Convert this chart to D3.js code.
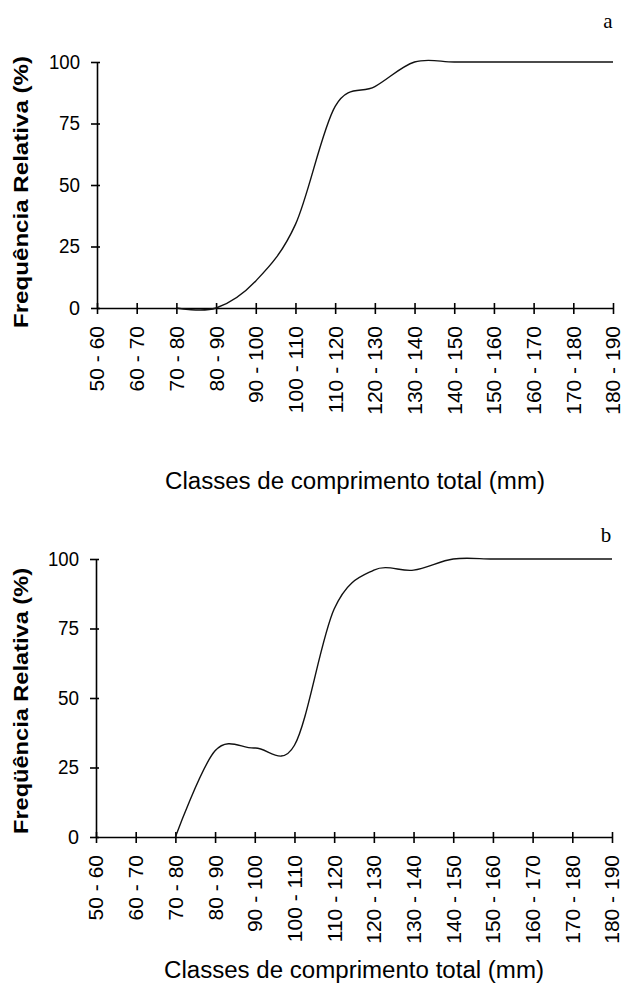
<!DOCTYPE html>
<html>
<head>
<meta charset="utf-8">
<script src="https://cdn.jsdelivr.net/npm/d3@7"></script>
<style>
  body { margin: 0; background: #fff; }
  svg { display: block; }
  .tick text { fill: #000; }
</style>
</head>
<body>
<div id="chart"></div>
<script>
// length classes (mm)
const categories = ['50 - 60', '60 - 70', '70 - 80', '80 - 90', '90 - 100', '100 - 110',
  '110 - 120', '120 - 130', '130 - 140', '140 - 150', '150 - 160', '160 - 170',
  '170 - 180', '180 - 190'];

// cumulative relative frequency (%), null = no value
const seriesA = [null, null, 0, 0, 11, 34, 82, 90, 100, 100, 100, 100, 100, 100];
const seriesB = [null, null, 0, 31, 32, 33, 82, 96, 96, 100, 100, 100, 100, 100];

const yTicks = [0, 25, 50, 75, 100];

const W = 625, H = 987;

const svg = d3.select('#chart')
  .append('svg')
  .attr('width', W)
  .attr('height', H);

/* draws one panel: axes, tick labels, titles and the smoothed line */
function drawPanel(cfg){
  const x = d3.scalePoint()
    .domain(categories)
    .range([cfg.left, cfg.right]);

  const y = d3.scaleLinear()
    .domain([0, 100])
    .range([cfg.bottom, cfg.top]);

  const g = svg.append('g');

  // y axis
  const yAxis = g.append('g')
    .attr('transform', `translate(${cfg.left},0)`)
    .call(d3.axisLeft(y).tickValues(yTicks).tickSizeOuter(0).tickPadding(11));
  yAxis.select('.domain').attr('stroke', '#000').attr('stroke-width', 1.6);
  yAxis.selectAll('.tick line').attr('x1', 3).attr('x2', -6).attr('stroke-width', 1.6);
  yAxis.selectAll('.tick text')
    .style('font-family', '"Liberation Sans", Arial, sans-serif')
    .style('font-size', '20px')
    .attr('textLength', d => d === 100 ? 31 : d === 0 ? 11 : 21)
    .attr('lengthAdjust', 'spacingAndGlyphs');

  // x axis
  const xAxis = g.append('g')
    .attr('transform', `translate(0,${cfg.bottom})`)
    .call(d3.axisBottom(x).tickSizeOuter(0));
  xAxis.select('.domain').attr('stroke', '#000').attr('stroke-width', 1.6);
  xAxis.selectAll('.tick line').attr('y1', -5).attr('y2', 6).attr('stroke-width', 1.6);
  xAxis.selectAll('.tick text')
    .style('font-family', '"Liberation Sans", Arial, sans-serif')
    .style('font-size', '21px')
    .attr('text-anchor', 'end')
    .attr('transform', 'rotate(-90)')
    .attr('x', -18)
    .attr('y', 0)
    .attr('dy', '0.33em');

  // line
  const line = d3.line()
    .defined(d => d.v !== null)
    .x(d => x(d.c))
    .y(d => y(d.v))
    .curve(d3.curveCatmullRom.alpha(0));

  const pts = categories.map((c, i) => ({ c: c, v: cfg.values[i] }));

  g.append('path')
    .datum(pts)
    .attr('fill', 'none')
    .attr('stroke', '#111')
    .attr('stroke-width', 1.4)
    .attr('d', line);

  // y title
  g.append('text')
    .attr('transform', `translate(${cfg.ytX},${cfg.ytY}) rotate(-90)`)
    .attr('text-anchor', 'middle')
    .attr('dy', '0.36em')
    .attr('textLength', cfg.ytLen)
    .attr('lengthAdjust', 'spacingAndGlyphs')
    .style('font-family', '"Liberation Sans", Arial, sans-serif')
    .style('font-size', '20px')
    .style('font-weight', 'bold')
    .text(cfg.yTitle);

  // x title
  g.append('text')
    .attr('x', cfg.xtX)
    .attr('y', cfg.xtY)
    .attr('text-anchor', 'middle')
    .attr('dy', '0.36em')
    .attr('textLength', 380)
    .attr('lengthAdjust', 'spacingAndGlyphs')
    .style('font-family', '"Liberation Sans", Arial, sans-serif')
    .style('font-size', '23px')
    .text('Classes de comprimento total (mm)');

  // panel letter
  g.append('text')
    .attr('x', cfg.letterX)
    .attr('y', cfg.letterY)
    .attr('text-anchor', 'middle')
    .style('font-family', '"Liberation Serif", "Times New Roman", serif')
    .style('font-size', '21px')
    .text(cfg.letter);
}

drawPanel({
  values: seriesA, left: 97, right: 613, top: 62, bottom: 308,
  yTitle: 'Frequência Relativa (%)', ytX: 21, ytY: 192, ytLen: 272,
  xtX: 355, xtY: 481, letter: 'a', letterX: 608, letterY: 28
});

drawPanel({
  values: seriesB, left: 96, right: 612, top: 559, bottom: 837,
  yTitle: 'Freqüência Relativa (%)', ytX: 21, ytY: 701, ytLen: 266,
  xtX: 354, xtY: 970, letter: 'b', letterX: 606, letterY: 542
});
</script>
</body>
</html>
